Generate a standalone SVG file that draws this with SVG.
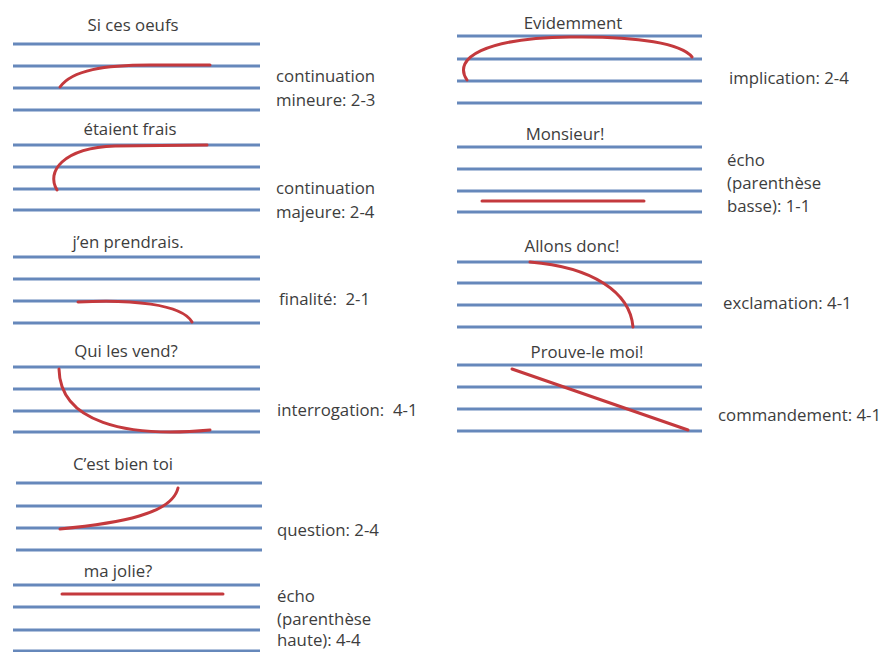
<svg xmlns="http://www.w3.org/2000/svg" width="893" height="652" viewBox="0 0 893 652">
<style>
.st{stroke:#6688bb;stroke-width:3;fill:none}
.cv{stroke:#c4393d;stroke-width:3;fill:none;stroke-linecap:round}
text{font-family:"Open Sans","Liberation Sans",sans-serif;font-size:16.8px;fill:#3d3d3d;white-space:pre}
.t{text-anchor:middle}
</style>
<rect width="893" height="652" fill="#ffffff"/>
<g id="staff-si-ces-oeufs">
<path class="st" d="M13,44H260M13,66H260M13,88H260M13,110H260"/>
<text class="t" x="133" y="31">Si ces oeufs</text>
<path class="cv" d="M60,87 C72,70 105,65 150,65 L210,65"/>
<text x="276" y="82">continuation</text>
<text x="276" y="106">mineure: 2-3</text>
</g>
<g id="staff-etaient-frais">
<path class="st" d="M13,145H260M13,167H260M13,189H260M13,210H260"/>
<text class="t" x="130" y="135">étaient frais</text>
<path class="cv" d="M57,190 C46,172 62,148 115,146 L207,145"/>
<text x="276" y="194">continuation</text>
<text x="276" y="218">majeure: 2-4</text>
</g>
<g id="staff-jen-prendrais">
<path class="st" d="M13,257H260M13,279H260M13,301H260M13,323H260"/>
<text class="t" x="128" y="248">j’en prendrais.</text>
<path class="cv" d="M78,302 C130,299 182,304 192,322"/>
<text x="279" y="305" xml:space="preserve">finalité:  2-1</text>
</g>
<g id="staff-qui-les-vend">
<path class="st" d="M13,367H260M13,389H260M13,411H260M13,432H260"/>
<text class="t" x="126" y="357">Qui les vend?</text>
<path class="cv" d="M59,369 C60,422 125,438 210,430"/>
<text x="277" y="416" xml:space="preserve">interrogation:  4-1</text>
</g>
<g id="staff-cest-bien-toi">
<path class="st" d="M16,483H262M16,506H262M16,528H262M16,550H262"/>
<text class="t" x="123" y="470">C’est bien toi</text>
<path class="cv" d="M60,529 C120,523 172,514 178,488"/>
<text x="277" y="536">question: 2-4</text>
</g>
<g id="staff-ma-jolie">
<path class="st" d="M13,585H260M13,607H260M13,630H260M13,651H260"/>
<text class="t" x="118" y="577">ma jolie?</text>
<path class="cv" d="M62,594H223"/>
<text x="277" y="602">écho</text>
<text x="277" y="625">(parenthèse</text>
<text x="277" y="646">haute): 4-4</text>
</g>
<g id="staff-evidemment">
<path class="st" d="M457,36H702M457,59H702M457,81H702M457,103H702"/>
<text class="t" x="573" y="29">Evidemment</text>
<path class="cv" d="M467,80 C452,58 485,38 570,37 C640,36 682,44 692,57"/>
<text x="729" y="84">implication: 2-4</text>
</g>
<g id="staff-monsieur">
<path class="st" d="M457,147H702M457,169H702M457,191H702M457,212H702"/>
<text class="t" x="565" y="140">Monsieur!</text>
<path class="cv" d="M482,201H644"/>
<text x="727" y="166">écho</text>
<text x="727" y="189">(parenthèse</text>
<text x="727" y="212">basse): 1-1</text>
</g>
<g id="staff-allons-donc">
<path class="st" d="M457,262H702M457,283H702M457,305H702M457,327H702"/>
<text class="t" x="572" y="252">Allons donc!</text>
<path class="cv" d="M530,262 C592,267 630,292 633,327"/>
<text x="723" y="309">exclamation: 4-1</text>
</g>
<g id="staff-prouve-le-moi">
<path class="st" d="M457,365H702M457,387H702M457,409H702M457,431H702"/>
<text class="t" x="587" y="358">Prouve-le moi!</text>
<path class="cv" d="M512,369L688,430"/>
<text x="718" y="421">commandement: 4-1</text>
</g>
<g id="connectors"></g>
</svg>
